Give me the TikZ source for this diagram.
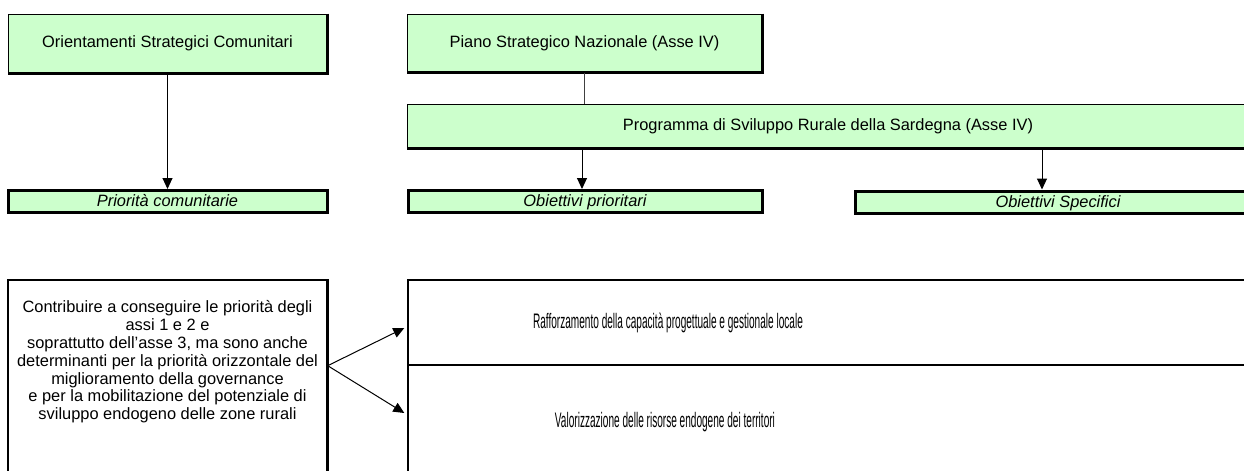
\documentclass[tikz,border=0pt]{standalone}
\usepackage{fontspec}
\setmainfont{Liberation Sans}
\newfontfamily\narrowfont[FakeStretch=0.48]{Liberation Sans}
\usepackage{xcolor}
\definecolor{paleGreen}{HTML}{CCFFCC}
\usetikzlibrary{arrows.meta}

\begin{document}
\begin{tikzpicture}[x=0.5pt,y=-0.5pt,
    every node/.style={font=\fontsize{8.2}{9.4}\selectfont, inner sep=0pt},
    greenbox/.style={draw, fill=paleGreen, line width=0.5pt},
    labelbox/.style={draw, fill=paleGreen, line width=1.5pt, text height=7pt, text depth=1.6pt, font=\fontsize{8.2}{9.4}\selectfont\itshape},
    plainbox/.style={draw, line width=0.7pt},
    narrowtext/.style={font=\fontsize{10.5}{12}\selectfont\narrowfont},
    shadowedge/.style={line width=1.5pt},
    arrowline/.style={-{Triangle[length=5.5pt,width=5pt]}, line width=0.5pt},
    plainline/.style={line width=0.5pt, draw=black!75}]
		% frame of the page
		\useasboundingbox (0,0) rectangle (1244,471);
		\clip (0,0) rectangle (1244,471);
		% TOP LEVEL
		\node [greenbox, minimum width=159.5pt, minimum height=29.5pt] (orient) at (167.5,43.5) {Orientamenti Strategici Comunitari};
		\node [greenbox, minimum width=177.5pt, minimum height=29pt] (piano) at (584.5,43) {Piano Strategico Nazionale (Asse IV)};
		\node [greenbox, minimum width=421pt, minimum height=22pt] (programma) at (828,126) {Programma di Sviluppo Rurale della Sardegna (Asse IV)};
		\foreach \n in {orient,piano,programma}
			\draw [shadowedge] (\n.north east) -- (\n.south east) -- (\n.south west);
		% LABELS
		\node [labelbox, minimum width=159.5pt, minimum height=11pt] (prior) at (167.5,201.5) {Priorità comunitarie};
		\node [labelbox, minimum width=177pt, minimum height=11pt] (obprior) at (585,201.5) {Obiettivi prioritari};
		\node [labelbox, minimum width=203pt, minimum height=11pt] (obspec) at (1058,202) {Obiettivi Specifici};
		\coordinate (specin) at ([xshift=-8pt]obspec.north);
		\coordinate (priorin) at ([xshift=-1.5pt]obprior.north);
		% links
		\draw [arrowline] (orient) -- (prior);
		\draw [plainline] (piano.south) -- (piano.south |- programma.north);
		\draw [arrowline] (priorin |- programma.south) -- (priorin);
		\draw [arrowline] (specin |- programma.south) -- (specin);
		% BOTTOM PART
		\node [plainbox, minimum width=159.5pt, minimum height=120pt] (contrib) at (167.5,400) {};
		\draw [line width=1pt] (contrib.north east) -- (contrib.south east);
		\node [align=center, font=\fontsize{8.2}{8.9}\selectfont] (contribtext) at (167.5,362) {Contribuire a conseguire le priorità degli\\assi 1 e 2 e\\soprattutto dell’asse 3, ma sono anche\\determinanti per la priorità orizzontale del\\miglioramento della governance\\e per la mobilitazione del potenziale di\\sviluppo endogeno delle zone rurali};
		\node [plainbox, minimum width=426pt, minimum height=42.5pt] (rafforz) at (834,322.5) {};
		\node [plainbox, minimum width=426pt, minimum height=58pt] (valoriz) at (834,423) {};
		\node [narrowtext] (rafforztext) at (668,322.5) {Rafforzamento della capacità progettuale e gestionale locale};
		\node [narrowtext] (valoriztext) at (665,422.5) {Valorizzazione delle risorse endogene dei territori};
		\coordinate (fork) at (contrib.east |- rafforz.south);
		\draw [arrowline] (fork) -- ([xshift=-1.5pt,yshift=-2.75pt]rafforz.west);
		\draw [arrowline] (fork) -- ([xshift=-1.5pt,yshift=5pt]valoriz.west);
		\end{tikzpicture}
\end{document}
